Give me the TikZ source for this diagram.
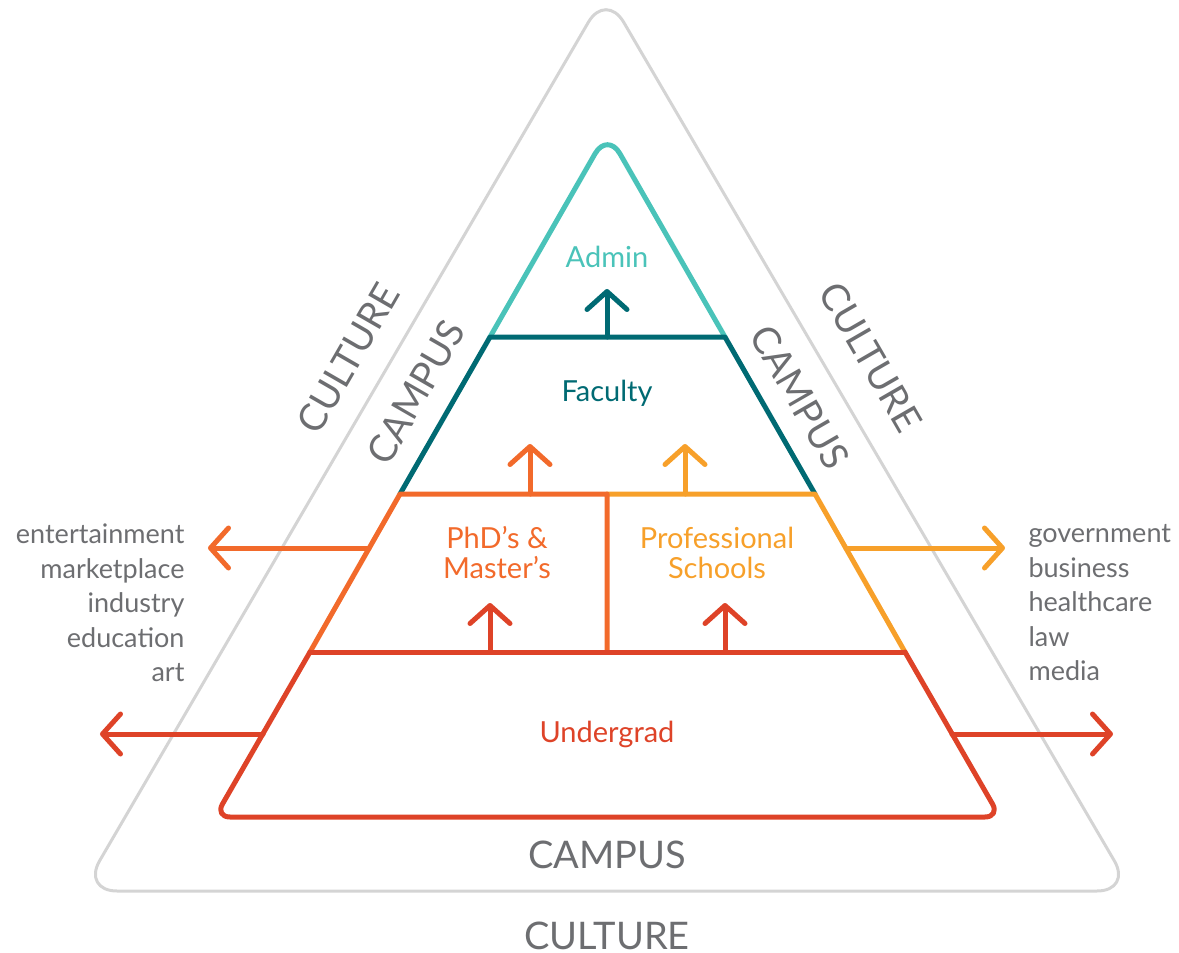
\documentclass[tikz,border=0pt]{standalone}
\usepackage{fontspec}
\setmainfont{Lato}
\usetikzlibrary{arrows.meta}
\definecolor{admincol}{HTML}{4AC3B9}
\definecolor{facultycol}{HTML}{006A73}
\definecolor{phdcol}{HTML}{F26A2B}
\definecolor{profcol}{HTML}{F7A02A}
\definecolor{undercol}{HTML}{DE4328}
\definecolor{culturecol}{HTML}{D4D4D4}
\definecolor{textcol}{HTML}{6D6E71}
\begin{document}
\begin{tikzpicture}[x=1pt,y=-1pt,line cap=round,line join=round,
	>={Straight Barb[length=18pt,width=40pt,round]}]
	\tikzset{level/.style={line width=5pt},
	ring label/.style={font=\fontsize{38}{40}\selectfont,text=textcol,inner sep=1pt},
	layer label/.style={font=\fontsize{29}{30}\selectfont,align=center},
	list label/.style={font=\fontsize{27}{34.5}\selectfont,text=textcol}}
	\useasboundingbox (0,0) rectangle (1179,953);
	% culture and campus
	\draw[culturecol,line width=3pt,rounded corners=35pt] (607,891)--(1132,891)--(606,-8)--(82,891)--cycle;
	\node[ring label] (campus) at (607,855) {CAMPUS};
	\node[ring label] (culture) at (607,936) {CULTURE};
	\node[ring label,rotate=60] (culture l) at (348,358) {CULTURE};
	\node[ring label,rotate=60] (campus l) at (416,392) {CAMPUS};
	\node[ring label,rotate=-60] (campus r) at (800,397) {CAMPUS};
	\node[ring label,rotate=-60] (culture r) at (871,357) {CULTURE};
	% pyramid
	\draw[admincol,level,rounded corners=25pt] (490,337)--(607.5,132)--(725,337);
	\draw[facultycol,level] (400,494)--(490,337)--(725,337)--(815,494);
	\draw[facultycol,level,->] (607,337)--(607,289);
	\draw[profcol,level] (607,494)--(815,494)--(905,652);
	\draw[phdcol,level] (310,652)--(400,494)--(607,494)--(607,652);
	\draw[phdcol,level,->] (530,494)--(530,444);
	\draw[profcol,level,->] (685,494)--(685,444);
	\draw[undercol,level] (310,652)--(905,652);
	\draw[undercol,level,rounded corners=15pt] (310,652)--(215,817)--(1000,817)--(905,652);
	\draw[undercol,level,->] (490,652)--(490,603);
	\draw[undercol,level,->] (725,652)--(725,603);
	% out to the world
	\draw[phdcol,level,->] (369,548)--(208,548);
	\draw[undercol,level,->] (263,734)--(100,734);
	\draw[profcol,level,->] (846,548)--(1005,548);
	\draw[undercol,level,->] (952,734)--(1113,734);
	% labels
	\node[layer label,text=admincol] (admin) at (607,257) {Admin};
	\node[layer label,text=facultycol] (faculty) at (607,393) {Faculty};
	\node[layer label,text=phdcol] (phd) at (497,553) {PhD’s \&\\Master’s};
	\node[layer label,text=profcol] (prof) at (717,553) {Professional\\Schools};
	\node[layer label,text=undercol] (undergrad) at (607,734) {Undergrad};
	\node[list label,align=right,anchor=east] (fields l) at (188,603) {entertainment\\marketplace\\industry\\education\\art};
	\node[list label,align=left,anchor=west] (fields r) at (1025,603) {government\\business\\healthcare\\law\\media};
\end{tikzpicture}
\end{document}
